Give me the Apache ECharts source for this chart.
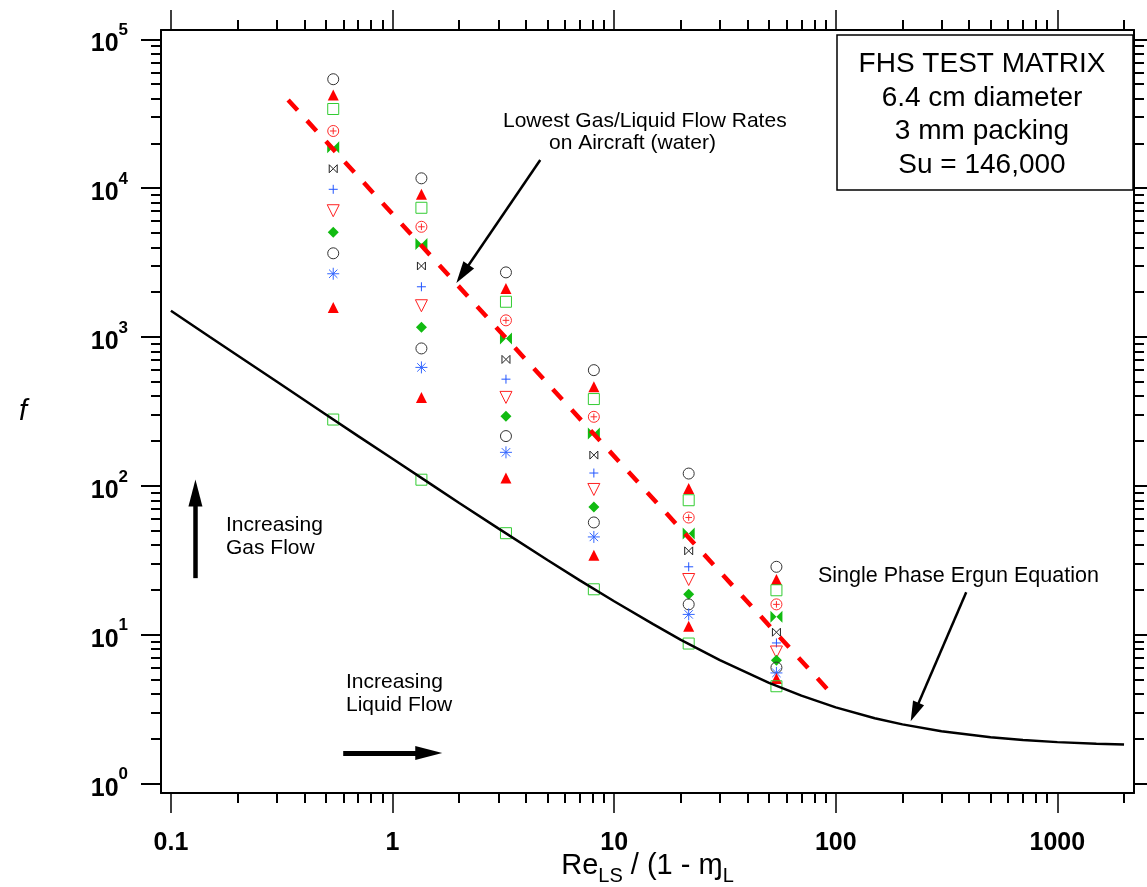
<!DOCTYPE html>
<html><head><meta charset="utf-8">
<script src="https://cdn.jsdelivr.net/npm/echarts@6/dist/echarts.min.js"></script>
<style>html,body{margin:0;padding:0;background:#fff}#c{width:1147px;height:887px}</style>
</head><body><div id="c"></div>
<script>
// ---- data ----
const reLiquid = [0.54, 1.35, 3.25, 8.1, 21.7, 54];
const gasOpenCircleA = [53900, 11640, 2717, 599, 121, 28.6];
const gasTriangleA = [42300, 9090, 2121, 463, 96.1, 23.5];
const gasSquare = [34000, 7380, 1725, 383, 80.1, 19.9];
const gasCirclePlus = [24200, 5500, 1294, 291, 61.3, 16.0];
const gasBowtieFilled = [18800, 4210, 979, 225, 47.9, 13.2];
const gasBowtieOpen = [13500, 3000, 707, 161, 36.6, 10.4];
const gasPlus = [9820, 2175, 521, 122, 28.6, 8.81];
const gasTriangleDown = [7050, 1622, 393, 94.6, 23.5, 7.66];
const gasDiamond = [5050, 1161, 294, 72.2, 18.7, 6.74];
const gasOpenCircleB = [3650, 838, 216, 56.8, 16.0, 6.02];
const gasAsterisk = [2660, 625, 168, 45.4, 13.7, 5.54];
const gasTriangleB = [1580, 393, 113, 34.2, 11.4, 5.08];
const singlePhase = [279, 110, 48.1, 20.2, 8.73, 4.51];

const ergunRe = [0.1, 0.15, 0.2, 0.3, 0.5, 0.7, 1, 1.5, 2, 3, 5, 7, 10, 15, 20, 30, 50, 70, 100, 150, 200, 300, 500, 700, 1000, 1500, 2000];
const ergunF = [1500, 1000, 752, 502, 302, 216, 152, 102, 76.8, 51.8, 31.8, 23.2, 16.8, 11.8, 9.25, 6.75, 4.75, 3.9, 3.25, 2.75, 2.5, 2.25, 2.05, 1.96, 1.9, 1.85, 1.83];

const aircraftRe = [0.338, 94.4];
const aircraftF = [39100, 4.11];

const xMajorTicks = [0.1, 1, 10, 100, 1000];
const xMinorTicks = [0.2,0.3,0.4,0.5,0.6,0.7,0.8,0.9, 2,3,4,5,6,7,8,9, 20,30,40,50,60,70,80,90, 200,300,400,500,600,700,800,900, 2000];
const yMajorTicks = [1, 10, 100, 1000, 10000, 100000];
const yMinorTicks = [2,3,4,5,6,7,8,9, 20,30,40,50,60,70,80,90, 200,300,400,500,600,700,800,900, 2000,3000,4000,5000,6000,7000,8000,9000, 20000,30000,40000,50000,60000,70000,80000,90000];

// annotation arrows in data coordinates: [start, arrowhead centre]
const arrowLowest = [[4.64, 15450], [2.07, 2651]];
const arrowErgun = [[388, 19.3], [227, 3.02]];
const arrowGas = [[0.129, 24.0], [0.129, 89.6]];
const arrowLiquid = [[0.599, 1.606], [1.457, 1.606]];

// ---- chart ----
const FONT = '"Liberation Sans", Arial, sans-serif';
const X_MIN = 0.0902, X_MAX = 2218, Y_MIN = 0.865, Y_MAX = 115400;
const pair = ys => reLiquid.map((x, i) => [x, ys[i]]);
const HOLLOW = 'rgba(255,255,255,0)';

function xAxisDef(pos, major, extra) {
  return Object.assign({
    type: 'log', logBase: 10, min: X_MIN, max: X_MAX, position: pos,
    axisLine: { show: major, lineStyle: { color: '#000', width: 2 } },
    axisTick: { show: true, inside: false, customValues: major ? xMajorTicks : xMinorTicks,
      length: major ? 20 : 10, lineStyle: { color: '#000', width: major ? 1.5 : 2 } },
    axisLabel: { show: false },
    splitLine: { show: false }, minorTick: { show: false }, minorSplitLine: { show: false }
  }, extra || {});
}
function yAxisDef(pos, major, extra) {
  return Object.assign({
    type: 'log', logBase: 10, min: Y_MIN, max: Y_MAX, position: pos,
    axisLine: { show: major, lineStyle: { color: '#000', width: 2 } },
    axisTick: { show: true, inside: false, customValues: major ? yMajorTicks : yMinorTicks,
      length: major ? 20 : 10, lineStyle: { color: '#000', width: 2 } },
    axisLabel: { show: false },
    splitLine: { show: false }, minorTick: { show: false }, minorSplitLine: { show: false }
  }, extra || {});
}

function scatter(name, ys, symbol, size, fill, stroke, bw) {
  return {
    name, type: 'scatter', data: pair(ys), symbol, symbolSize: size, z: 2,
    itemStyle: { color: fill, borderColor: stroke, borderWidth: bw || 0, opacity: 1 },
    emphasis: { disabled: true }
  };
}

const P_CIRCLEPLUS = 'path://M0,10 A10,10 0 1,1 20,10 A10,10 0 1,1 0,10 Z M10,4 L10,16 M4,10 L16,10';
const P_BOWTIE = 'path://M0,0 L10,10 L0,20 Z M20,0 L10,10 L20,20 Z';
const P_PLUS = 'path://M10,0 L10,20 M0,10 L20,10';
const P_TRIDOWN = 'path://M0,0 L20,0 L10,18 Z';
const P_ASTER = 'path://M10,0 L10,20 M0,10 L20,10 M3,3 L17,17 M17,3 L3,17';
const P_HEAD = 'path://M10,0 L20,30 L0,30 Z';

const series = [
  scatter('Gas 1', gasOpenCircleA, 'circle', 11, HOLLOW, '#333', 1),
  scatter('Gas 2', gasTriangleA, 'triangle', 11, '#ff0000'),
  scatter('Gas 3', gasSquare, 'rect', 11, HOLLOW, '#33cc33', 1),
  scatter('Gas 4', gasCirclePlus, P_CIRCLEPLUS, 11, HOLLOW, '#ff2a2a', 1),
  scatter('Gas 5', gasBowtieFilled, P_BOWTIE, 12, '#11bb11'),
  scatter('Gas 6', gasBowtieOpen, P_BOWTIE, 8, HOLLOW, '#222', 1),
  scatter('Gas 7', gasPlus, P_PLUS, 9, HOLLOW, '#2255ff', 1),
  scatter('Gas 8', gasTriangleDown, P_TRIDOWN, 12, HOLLOW, '#ff2020', 1),
  scatter('Gas 9', gasDiamond, 'diamond', 11, '#11bb11'),
  scatter('Gas 10', gasOpenCircleB, 'circle', 11, HOLLOW, '#333', 1),
  scatter('Gas 11', gasAsterisk, P_ASTER, 12, HOLLOW, '#3366ff', 1),
  scatter('Gas 12', gasTriangleB, 'triangle', 11, '#ff0000'),
  scatter('Single phase', singlePhase, 'rect', 11, HOLLOW, '#33cc33', 1),
  {
    name: 'Ergun', type: 'line', z: 4, showSymbol: false, symbol: 'none', silent: true,
    data: ergunRe.map((x, i) => [x, ergunF[i]]),
    lineStyle: { color: '#000', width: 2.5 },
    markLine: {
      silent: true, animation: false, symbol: ['none', P_HEAD],
      label: { show: false },
      lineStyle: { color: '#000', width: 2.5, type: 'solid' },
      emphasis: { disabled: true },
      data: [
        [{ coord: arrowLowest[0], symbolSize: [13, 22] }, { coord: arrowLowest[1], symbolSize: [13, 22] }],
        [{ coord: arrowErgun[0], symbolSize: [12, 20] }, { coord: arrowErgun[1], symbolSize: [12, 20] }],
        [{ coord: arrowGas[0], symbolSize: [14, 27], lineStyle: { width: 4.5 } }, { coord: arrowGas[1], symbolSize: [14, 27] }],
        [{ coord: arrowLiquid[0], symbolSize: [14, 27], lineStyle: { width: 5 } }, { coord: arrowLiquid[1], symbolSize: [14, 27] }]
      ]
    }
  },
  {
    name: 'Lowest aircraft flow', type: 'line', z: 5, showSymbol: false, symbol: 'none', silent: true,
    data: aircraftRe.map((x, i) => [x, aircraftF[i]]),
    lineStyle: { color: '#ff0000', width: 4.5, type: [14, 14], cap: 'butt' }
  }
];

const chart = echarts.init(document.getElementById('c'), null, { renderer: 'canvas' });
chart.setOption({
  animation: false,
  backgroundColor: '#fff',
  grid: { left: 161, top: 30, width: 973, height: 763, containLabel: false, outerBoundsMode: 'none' },
  xAxis: [
    xAxisDef('bottom', true, {
      axisLabel: { show: true, customValues: xMajorTicks, margin: 38, fontSize: 25, fontWeight: 'bold', color: '#000', fontFamily: FONT,
        formatter: v => String(+(+v).toPrecision(3)) },
      name: '{r|Re}{s|LS}{r| / (1 - ɱ}{s|L}', nameLocation: 'middle', nameGap: 55, nameMoveOverlap: false,
      nameTextStyle: { rich: {
        r: { fontSize: 29, fontFamily: FONT, color: '#000', lineHeight: 36 },
        s: { fontSize: 20, fontFamily: FONT, color: '#000', lineHeight: 20, padding: [20, 0, 0, 0] }
      } }
    }),
    xAxisDef('bottom', false),
    xAxisDef('top', true),
    xAxisDef('top', false)
  ],
  yAxis: [
    yAxisDef('left', true, {
      axisLabel: { show: true, customValues: yMajorTicks, margin: 33, color: '#000',
        formatter: v => '{b|10}{s|' + Math.round(Math.log10(v)) + '}',
        rich: {
          b: { fontSize: 25, fontWeight: 'bold', fontFamily: FONT, color: '#000', lineHeight: 25, padding: [10, 0, 0, 0] },
          s: { fontSize: 17, fontWeight: 'bold', fontFamily: FONT, color: '#000', lineHeight: 17, padding: [0, 0, 18, 0] }
        } },
      name: 'f', nameLocation: 'middle', nameRotate: 0, nameGap: 134, nameMoveOverlap: false,
      nameTextStyle: { fontSize: 29, fontStyle: 'italic', fontFamily: FONT, color: '#000' }
    }),
    yAxisDef('left', false),
    yAxisDef('right', true),
    yAxisDef('right', false)
  ],
  graphic: [
    { type: 'rect', shape: { x: 837, y: 35, width: 296, height: 155 }, z: 10,
      style: { fill: '#fff', stroke: '#000', lineWidth: 1.5 } },
    { type: 'text', x: 982, y: 48, z: 11,
      style: { text: 'FHS TEST MATRIX\n6.4 cm diameter\n3 mm packing\nSu = 146,000',
        font: '28px ' + FONT, fill: '#000', align: 'center', verticalAlign: 'top', lineHeight: 33.5 } },
    { type: 'text', x: 503, y: 121, z: 11,
      style: { text: 'Lowest Gas/Liquid Flow Rates', font: '21px ' + FONT, fill: '#000', verticalAlign: 'middle' } },
    { type: 'text', x: 549, y: 143.5, z: 11,
      style: { text: 'on Aircraft (water)', font: '21px ' + FONT, fill: '#000', verticalAlign: 'middle' } },
    { type: 'text', x: 226, y: 525, z: 11,
      style: { text: 'Increasing', font: '21px ' + FONT, fill: '#000', verticalAlign: 'middle' } },
    { type: 'text', x: 226, y: 548, z: 11,
      style: { text: 'Gas Flow', font: '21px ' + FONT, fill: '#000', verticalAlign: 'middle' } },
    { type: 'text', x: 346, y: 682, z: 11,
      style: { text: 'Increasing', font: '21px ' + FONT, fill: '#000', verticalAlign: 'middle' } },
    { type: 'text', x: 346, y: 705, z: 11,
      style: { text: 'Liquid Flow', font: '21px ' + FONT, fill: '#000', verticalAlign: 'middle' } },
    { type: 'text', x: 818, y: 576, z: 11,
      style: { text: 'Single Phase Ergun Equation', font: '21.5px ' + FONT, fill: '#000', verticalAlign: 'middle' } }
  ],
  series
});
</script>
</body></html>
